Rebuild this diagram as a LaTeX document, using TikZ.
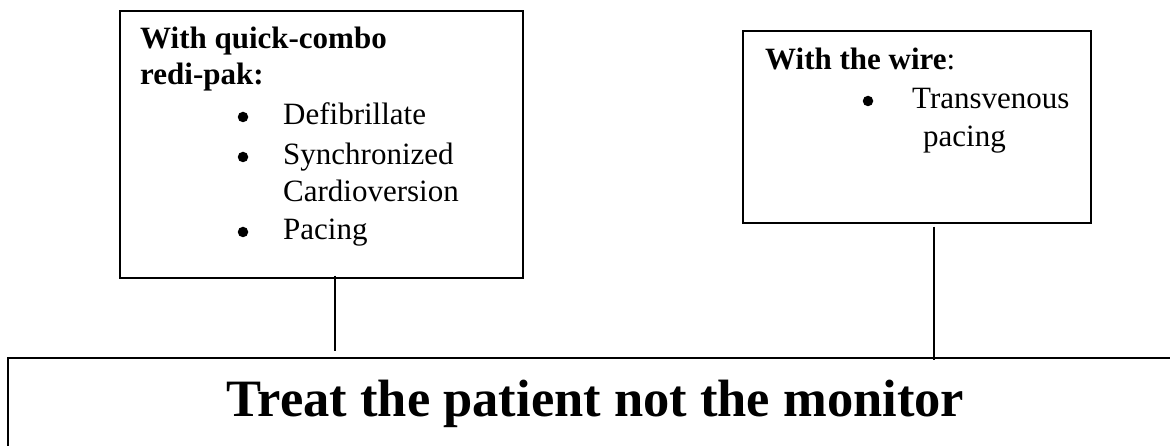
\documentclass[tikz,border=0pt]{standalone}
\usepackage{fontspec}
\setmainfont{Liberation Serif}
\begin{document}
\begin{tikzpicture}[x=1pt,y=-1pt,
  box/.style={draw=black,line width=1.6pt},
  link/.style={draw=black,line width=1.6pt},
  txt/.style={anchor=base west,inner sep=0pt,font=\fontsize{31}{36}\selectfont},
  btxt/.style={anchor=base west,inner sep=0pt,font=\fontsize{31}{36}\selectfont\bfseries},
  bul/.style={circle,fill=black,inner sep=0pt,minimum size=10.5pt},
  title/.style={anchor=base,inner sep=0pt,font=\fontsize{52.5}{60}\selectfont\bfseries}]
\useasboundingbox (0,0) rectangle (1170,446);
\clip (0,0) rectangle (1170,446);
% boxes
\node[box,anchor=north west,minimum width=403pt,minimum height=267pt,inner sep=0pt] (b1) at (119,10) {};
\node[box,anchor=north west,minimum width=348pt,minimum height=192pt,inner sep=0pt] (b2) at (742,30) {};
\node[box,anchor=north west,minimum width=1200pt,minimum height=150pt,inner sep=0pt] (b3) at (7,357) {};
% box 1 text
\node[btxt] (t1a) at (140,49) {With quick-combo};
\node[btxt] (t1b) at (140,85) {redi-pak:};
\node[bul] (u1) at (243,117) {};
\node[txt] (t1c) at (283,125) {Defibrillate};
\node[bul] (u2) at (243,157) {};
\node[txt] (t1d) at (283,165) {Synchronized};
\node[txt] (t1e) at (283,202) {Cardioversion};
\node[bul] (u3) at (243,232) {};
\node[txt] (t1f) at (283,240) {Pacing};
% box 2 text
\node[txt] (t2a) at (765,70) {\textbf{With the wire}:};
\node[bul] (u4) at (868,101) {};
\node[txt] (t2b) at (912,109) {Transvenous};
\node[txt] (t2c) at (923,147) {pacing};
% title
\node[title] (tt) at (595.5,416) {Treat the patient not the monitor};
% connectors
\coordinate (e1) at (335,351);
\coordinate (e2) at (934,360);
\draw[link] (b1.south -| e1) ++(0,-3) -- (e1);
\draw[link] (b2.south -| e2) ++(0,3) -- (e2);
\end{tikzpicture}
\end{document}
